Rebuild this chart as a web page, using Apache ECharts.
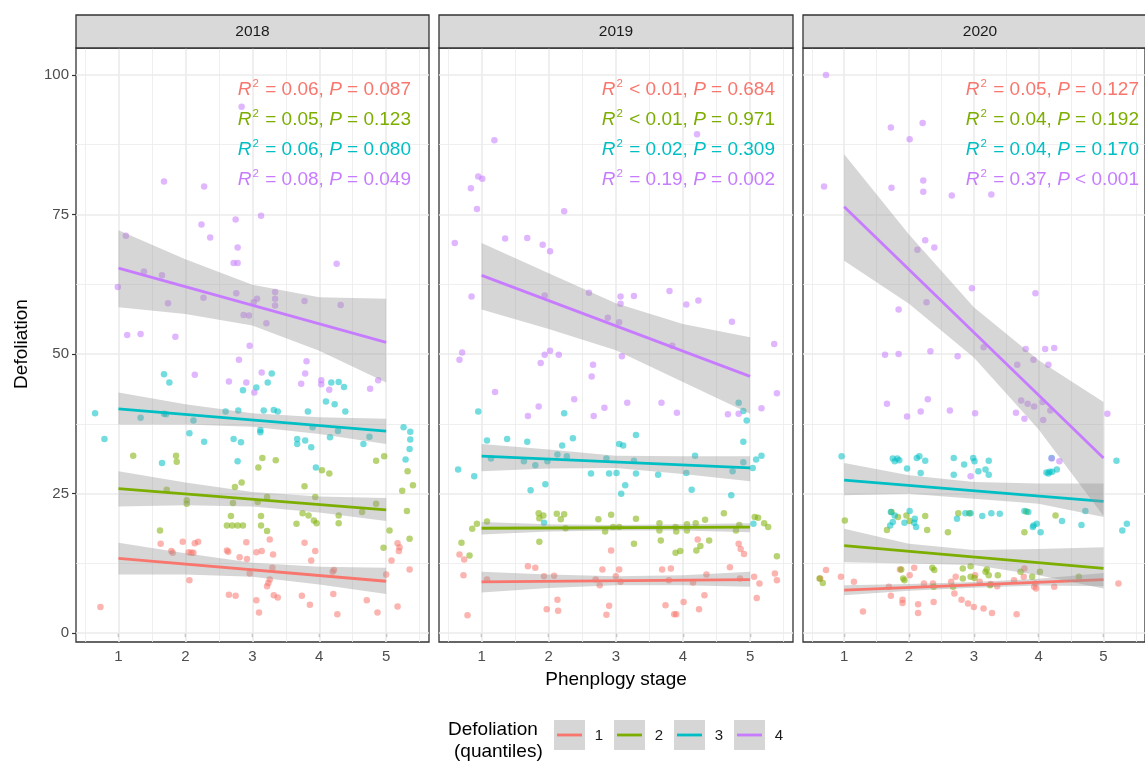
<!DOCTYPE html>
<html><head><meta charset="utf-8">
<script src="https://cdn.jsdelivr.net/npm/echarts@6/dist/echarts.min.js"></script>
<style>html,body{margin:0;padding:0;background:#fff}#c{width:1145px;height:762px}</style>
</head><body><div id="c"></div><script>
// ---------- categories / ticks ----------
const years = ['2018', '2019', '2020'];
const quantiles = ['1', '2', '3', '4'];
const colors = ['#F8766D', '#7CAE00', '#00BFC4', '#C77CFF'];
const xTicks = [1, 2, 3, 4, 5];
const xMinor = [0.5, 1.5, 2.5, 3.5, 4.5, 5.5];
const yTicks = [0, 25, 50, 75, 100];
const yMinor = [12.5, 37.5, 62.5, 87.5];
const bandX = [1, 2, 3, 4, 5];
const fitX = [1, 5];

// ---------- points (phenology stage, defoliation) ----------
const pts18_1 = [[0.73,4.7],[1.63,16.0],[1.79,14.7],[1.81,14.4],[1.96,16.4],[2.06,9.5],[2.05,14.5],[2.09,14.4],[2.12,14.4],[2.14,16.1],[2.19,16.4],[2.62,14.8],[2.64,14.6],[2.81,13.6],[2.92,13.3],[2.91,16.3],[2.65,6.9],[2.75,6.7],[2.96,10.7],[3.06,14.5],[3.14,14.7],[3.26,16.8],[3.31,14.1],[3.30,11.7],[3.06,5.9],[3.10,3.7],[3.22,8.4],[3.24,9.0],[3.26,9.6],[3.32,6.8],[3.38,6.4],[3.78,16.2],[3.94,14.7],[3.88,13.0],[3.74,6.7],[3.86,5.1],[4.20,11.0],[4.22,11.3],[4.21,7.0],[4.27,3.4],[4.71,5.9],[4.87,3.7],[5.00,10.5],[5.08,13.0],[5.17,16.1],[5.19,14.7],[5.20,15.4],[5.17,4.8],[5.35,11.4]];
const pts18_2 = [[1.22,31.8],[1.86,31.8],[1.87,30.7],[1.62,18.4],[1.72,25.7],[2.02,23.8],[2.02,23.2],[2.74,26.2],[2.84,27.0],[2.71,23.3],[2.68,21.0],[2.62,19.3],[2.70,19.3],[2.78,19.3],[2.86,19.3],[3.09,29.7],[3.15,31.4],[3.35,31.0],[3.22,24.4],[3.08,23.5],[3.13,21.0],[3.13,19.3],[3.22,18.3],[3.66,19.6],[3.78,26.3],[3.75,21.5],[3.84,21.1],[3.92,20.2],[3.96,19.7],[3.94,24.4],[4.04,29.2],[4.15,28.6],[4.29,21.1],[4.29,19.7],[4.64,21.7],[4.85,23.2],[4.85,30.9],[4.97,31.7],[4.96,15.3],[5.05,18.4],[5.32,29.0],[5.40,26.5],[5.24,25.5],[5.31,21.9],[5.35,16.9]];
const pts18_3 = [[0.65,39.4],[0.79,34.8],[1.68,46.4],[1.76,44.9],[1.33,38.6],[1.68,39.3],[1.71,39.2],[2.12,38.1],[2.06,35.8],[2.28,34.3],[1.65,30.5],[2.60,39.7],[2.79,39.9],[2.86,43.5],[3.06,44.0],[3.23,44.9],[3.29,46.5],[3.17,39.9],[3.32,40.0],[3.38,39.7],[2.72,34.8],[2.83,34.2],[2.78,30.8],[3.12,36.4],[3.12,36.0],[3.67,34.8],[3.67,33.9],[3.79,34.5],[3.88,33.3],[3.83,39.7],[3.90,36.9],[4.10,41.5],[4.23,41.0],[4.18,44.9],[4.29,45.0],[4.37,44.1],[4.39,39.7],[4.16,35.1],[4.28,36.2],[3.95,29.7],[4.66,33.9],[4.75,35.2],[5.26,36.9],[5.36,36.1],[5.36,34.7],[5.35,33.0],[5.29,31.1]];
const pts18_4 = [[2.84,94.3],[1.68,80.9],[2.28,80.0],[2.75,74.1],[3.13,74.8],[2.24,73.2],[2.37,70.9],[1.11,71.2],[2.78,69.1],[2.72,66.3],[2.78,66.3],[4.26,66.2],[0.99,62.0],[1.38,64.8],[1.65,64.1],[1.74,59.1],[2.27,60.1],[2.76,60.9],[3.02,59.3],[3.07,59.9],[3.34,61.1],[3.34,59.9],[3.34,58.7],[3.78,59.5],[4.32,58.8],[2.87,57.0],[2.95,56.9],[3.21,55.5],[1.13,53.4],[1.33,53.6],[1.85,53.1],[2.96,51.5],[2.80,49.0],[3.81,48.7],[3.79,46.5],[3.14,46.7],[2.14,46.3],[2.65,45.1],[2.91,44.9],[3.73,44.7],[4.03,45.3],[4.03,44.6],[4.15,43.6],[3.03,43.1],[4.76,43.8],[4.88,45.3]];

const pts19_1 = [[0.67,14.1],[0.74,13.2],[0.73,10.4],[0.79,3.2],[1.08,9.6],[1.69,12.0],[1.80,11.7],[1.93,10.2],[2.08,10.3],[1.97,4.3],[2.14,4.0],[2.13,6.0],[2.80,11.4],[2.70,9.6],[2.76,8.6],[2.93,14.8],[3.05,11.4],[3.00,10.2],[3.07,9.2],[2.90,4.9],[2.86,3.3],[3.69,11.4],[3.82,11.6],[3.79,9.5],[3.74,5.0],[3.87,3.4],[3.90,3.4],[4.01,5.6],[4.15,9.1],[4.22,16.8],[4.35,10.5],[4.32,6.8],[4.24,4.3],[4.70,11.8],[4.83,16.0],[4.86,15.1],[4.91,14.2],[5.06,10.1],[5.14,8.9],[5.10,6.3],[5.37,10.7],[5.40,9.5],[4.85,9.8]];
const pts19_2 = [[0.70,16.2],[0.82,13.9],[0.86,18.7],[0.93,19.6],[1.08,20.0],[1.85,21.5],[1.92,21.1],[1.86,20.6],[1.86,16.4],[2.12,21.4],[2.23,21.3],[2.18,20.4],[2.25,18.8],[2.74,20.4],[2.93,21.2],[2.84,18.2],[2.96,19.0],[3.05,19.0],[3.30,20.5],[3.27,16.0],[3.65,19.7],[3.65,18.4],[3.67,16.6],[3.89,19.0],[3.90,18.2],[4.06,19.5],[4.06,18.4],[3.89,14.4],[3.96,14.7],[4.19,19.7],[4.33,20.3],[4.20,14.8],[4.26,15.6],[4.39,16.6],[4.61,21.5],[4.84,19.4],[4.79,18.4],[5.07,20.8],[5.12,20.7],[5.21,19.7],[5.27,19.0],[5.40,13.8]];
const pts19_3 = [[0.95,39.7],[0.65,29.3],[0.89,28.1],[1.08,34.5],[1.38,34.8],[1.68,34.3],[1.14,31.3],[1.63,30.8],[1.80,30.1],[1.98,30.8],[2.13,32.0],[2.27,31.7],[2.23,39.4],[2.20,33.6],[2.36,34.9],[1.95,26.7],[1.73,25.6],[2.63,28.6],[2.86,31.3],[2.90,28.6],[3.01,28.7],[3.05,33.9],[3.11,33.6],[3.30,35.5],[3.27,30.9],[3.30,28.6],[3.14,26.5],[3.08,25.0],[3.63,28.4],[4.18,31.8],[4.05,28.7],[4.13,25.7],[4.72,24.7],[4.74,29.0],[4.90,34.3],[4.90,30.6],[4.83,41.3],[4.90,39.8],[4.95,38.1],[5.04,29.6],[5.09,31.1],[5.17,31.8],[5.05,19.6],[1.93,19.8]];
const pts19_4 = [[1.19,88.3],[4.21,89.4],[0.95,81.8],[1.01,81.4],[0.84,79.7],[0.93,76.0],[2.23,75.6],[0.60,69.9],[1.35,70.7],[1.68,70.8],[1.91,69.6],[2.02,68.4],[0.85,60.3],[1.94,60.5],[2.60,61.0],[3.07,60.3],[3.07,59.0],[3.27,60.4],[3.80,61.3],[4.05,58.9],[4.23,59.6],[4.73,55.8],[2.88,56.5],[3.05,55.7],[5.36,51.8],[3.84,51.5],[0.67,49.0],[0.71,50.3],[1.88,48.4],[1.94,49.9],[2.02,50.6],[2.15,49.9],[2.66,48.1],[2.64,46.0],[3.09,49.6],[1.20,43.2],[2.38,41.9],[1.85,40.6],[1.69,38.9],[2.83,40.4],[2.67,38.9],[3.17,41.3],[3.68,41.3],[3.91,39.5],[4.67,39.2],[4.83,39.3],[5.17,40.3],[5.40,43.0]];

const pts20_1 = [[0.63,9.8],[0.72,11.3],[0.95,10.1],[1.15,9.2],[1.29,3.9],[1.69,8.3],[1.72,6.7],[1.86,11.4],[1.90,6.0],[1.90,5.4],[2.01,10.4],[2.08,11.7],[2.14,5.2],[2.14,3.6],[2.23,8.9],[2.38,5.6],[2.37,8.9],[2.65,9.2],[2.70,7.1],[2.72,10.1],[2.81,6.0],[2.91,5.3],[3.00,4.7],[3.15,4.4],[3.28,3.6],[3.02,10.4],[3.09,9.2],[3.26,8.8],[3.36,8.4],[3.66,3.4],[3.62,9.5],[3.77,10.1],[3.78,11.6],[3.93,8.3],[3.96,8.0],[3.95,8.9],[4.24,8.3],[5.23,8.9]];
const pts20_2 = [[1.01,20.2],[0.67,9.0],[0.62,9.8],[1.73,21.7],[1.83,20.8],[1.96,21.1],[2.01,20.1],[2.25,21.0],[2.28,18.5],[1.66,18.5],[2.60,18.1],[2.76,21.5],[2.93,21.5],[3.78,18.1],[3.81,21.8],[4.26,21.1],[1.88,11.4],[1.91,9.8],[1.93,9.5],[2.36,11.7],[2.39,11.3],[2.38,8.3],[2.83,11.6],[2.95,12.0],[2.83,9.8],[2.95,10.1],[3.18,11.0],[3.23,10.4],[3.20,11.4],[3.37,10.4],[3.25,8.6],[2.68,8.3],[3.72,11.0],[4.02,11.0],[3.90,10.1],[4.62,10.1],[3.01,9.9]];
const pts20_3 = [[0.96,31.7],[1.75,31.3],[1.78,30.8],[1.82,31.3],[1.85,31.0],[1.97,29.5],[2.12,31.4],[2.16,31.7],[2.25,30.9],[2.18,28.7],[2.69,31.4],[2.85,30.2],[2.69,28.4],[2.99,31.4],[3.01,30.8],[3.23,30.9],[3.07,29.0],[3.18,29.3],[3.23,28.4],[4.20,31.4],[4.12,28.8],[4.17,28.9],[4.21,28.9],[4.28,29.3],[4.15,28.6],[5.20,30.9],[1.72,21.7],[1.78,21.1],[2.01,21.9],[2.09,20.5],[2.11,19.0],[1.75,19.9],[1.71,19.3],[1.93,19.8],[2.08,19.8],[2.74,20.5],[2.87,21.5],[2.95,21.5],[3.13,21.0],[3.27,21.5],[3.40,21.4],[3.78,21.9],[3.84,21.7],[3.92,19.3],[3.97,19.6],[4.03,18.1],[3.91,19.0],[4.36,20.1],[4.66,19.4],[4.72,21.9],[5.29,18.4],[5.36,19.6]];
const pts20_4 = [[0.72,100.0],[0.69,80.0],[1.72,90.6],[2.21,91.4],[2.01,88.5],[1.73,79.8],[2.22,81.1],[2.22,79.1],[2.66,78.4],[3.27,78.6],[2.25,70.4],[2.39,69.1],[2.13,68.7],[2.97,61.8],[3.95,60.9],[1.84,58.0],[2.27,59.3],[1.63,49.9],[1.84,50.0],[2.33,50.5],[2.75,49.6],[3.15,51.2],[3.80,50.9],[4.10,50.9],[4.24,51.1],[3.67,48.1],[3.92,49.0],[4.15,48.1],[1.66,41.1],[1.97,38.8],[2.18,39.7],[2.29,41.9],[2.63,39.9],[3.02,39.4],[3.65,39.5],[3.78,38.4],[3.73,41.7],[3.83,41.1],[3.93,40.6],[4.06,41.4],[4.07,38.2],[4.18,39.9],[5.06,39.3],[2.95,28.1],[4.32,30.8],[4.20,31.3]];

// ---------- fitted lines: defoliation at stage 1 and stage 5 ----------
const fit18 = [[13.4, 9.3], [25.9, 22.1], [40.2, 36.2], [65.4, 52.1]];
const fit19 = [[9.2, 9.6], [18.8, 19.0], [31.7, 29.6], [64.1, 46.0]];
const fit20 = [[7.7, 9.6], [15.7, 11.6], [27.4, 23.6], [76.4, 31.4]];

// ---------- confidence bands at stages 1..5 ----------
const lo18_1 = [10.5,10.5,10.1,8.7,7.0],   hi18_1 = [16.2,14.3,12.6,11.9,11.7];
const lo18_2 = [22.7,22.9,22.7,21.6,20.1], hi18_2 = [29.0,27.0,25.3,24.5,24.2];
const lo18_3 = [37.4,37.4,37.0,35.7,33.9], hi18_3 = [43.1,41.0,39.4,38.7,38.4];
const lo18_4 = [58.4,57.2,55.1,50.6,44.9], hi18_4 = [72.2,67.0,62.4,60.2,59.9];
const lo19_1 = [7.3,8.1,8.6,8.6,8.3],      hi19_1 = [11.0,10.5,10.2,10.4,11.0];
const lo19_2 = [17.7,18.2,18.4,18.4,18.1], hi19_2 = [19.9,19.5,19.4,19.5,19.7];
const lo19_3 = [29.0,29.5,29.6,28.5,27.2], hi19_3 = [33.9,32.9,31.8,31.7,31.7];
const lo19_4 = [58.0,54.5,50.7,45.0,39.3], hi19_4 = [69.9,64.5,59.1,55.4,53.0];
const lo20_1 = [6.8,7.6,8.15,8.55,8.4],    hi20_1 = [8.6,8.8,9.15,9.75,10.8];
const lo20_2 = [12.7,12.5,12.2,10.4,8.0],  hi20_2 = [18.7,16.0,14.9,15.1,15.4];
const lo20_3 = [24.7,25.0,24.1,23.2,20.8], hi20_3 = [30.5,28.3,27.1,26.8,26.8];
const lo20_4 = [66.7,59.0,49.4,36.5,21.0], hi20_4 = [85.8,71.4,58.4,48.9,41.4];

// ---------- annotation statistics ----------
const r2_18 = ['= 0.06', '= 0.05', '= 0.06', '= 0.08'], p_18 = ['= 0.087', '= 0.123', '= 0.080', '= 0.049'];
const r2_19 = ['< 0.01', '< 0.01', '= 0.02', '= 0.19'], p_19 = ['= 0.684', '= 0.971', '= 0.309', '= 0.002'];
const r2_20 = ['= 0.05', '= 0.04', '= 0.04', '= 0.37'], p_20 = ['= 0.127', '= 0.192', '= 0.170', '< 0.001'];

// ---------- assemble ----------
const points = [[pts18_1, pts18_2, pts18_3, pts18_4], [pts19_1, pts19_2, pts19_3, pts19_4], [pts20_1, pts20_2, pts20_3, pts20_4]];
const fits = [fit18, fit19, fit20];
const los = [[lo18_1, lo18_2, lo18_3, lo18_4], [lo19_1, lo19_2, lo19_3, lo19_4], [lo20_1, lo20_2, lo20_3, lo20_4]];
const his = [[hi18_1, hi18_2, hi18_3, hi18_4], [hi19_1, hi19_2, hi19_3, hi19_4], [hi20_1, hi20_2, hi20_3, hi20_4]];
const r2s = [r2_18, r2_19, r2_20], ps = [p_18, p_19, p_20];

const FONT = '"Liberation Sans", Arial, Helvetica, sans-serif';
const X_MIN = 0.365, X_MAX = 5.64, Y_MIN = -1.58, Y_MAX = 104.83;
const boxes = [{ left: 76, width: 353 }, { left: 439, width: 354 }, { left: 803, width: 354 }];
const TOP = 48, H = 594;

const chart = echarts.init(document.getElementById('c'), null, { renderer: 'canvas' });

const grids = [], xAxes = [], yAxes = [], series = [], graphic = [];
boxes.forEach((b, p) => {
  grids.push({ left: b.left, top: TOP, width: b.width, height: H, show: true, backgroundColor: '#FFFFFF', borderColor: '#333333', borderWidth: 1.3, z: 0 });
  xAxes.push({
    type: 'value', gridIndex: p, min: X_MIN, max: X_MAX,
    axisLine: { show: false }, splitLine: { show: false },
    axisTick: { show: true, customValues: xTicks, length: 4, lineStyle: { color: '#333333', width: 1.2 } },
    axisLabel: { show: true, customValues: xTicks, color: '#4D4D4D', fontSize: 15, fontFamily: FONT, margin: 7 }
  });
  yAxes.push({
    type: 'value', gridIndex: p, min: Y_MIN, max: Y_MAX,
    axisLine: { show: false }, splitLine: { show: false },
    axisTick: { show: p === 0, customValues: yTicks, length: 4, lineStyle: { color: '#333333', width: 1.2 } },
    axisLabel: { show: p === 0, customValues: yTicks, color: '#4D4D4D', fontSize: 15, fontFamily: FONT, margin: 7 }
  });
  // grid lines
  const minorLines = xMinor.map(v => ({ coords: [[v, Y_MIN], [v, Y_MAX]] }))
    .concat(yMinor.map(v => ({ coords: [[X_MIN, v], [X_MAX, v]] })));
  const majorLines = xTicks.map(v => ({ coords: [[v, Y_MIN], [v, Y_MAX]] }))
    .concat(yTicks.map(v => ({ coords: [[X_MIN, v], [X_MAX, v]] })));
  series.push({ type: 'lines', coordinateSystem: 'cartesian2d', xAxisIndex: p, yAxisIndex: p, silent: true, z: 1,
    lineStyle: { color: '#EBEBEB', width: 0.8, opacity: 1 }, data: minorLines });
  series.push({ type: 'lines', coordinateSystem: 'cartesian2d', xAxisIndex: p, yAxisIndex: p, silent: true, z: 1,
    lineStyle: { color: '#EBEBEB', width: 1.6, opacity: 1 }, data: majorLines });

  for (let g = 0; g < 4; g++) {
    series.push({
      type: 'scatter', name: quantiles[g], xAxisIndex: p, yAxisIndex: p, data: points[p][g],
      symbol: 'circle', symbolSize: 6.5, silent: true, z: 2,
      itemStyle: { color: colors[g], opacity: 0.55 }
    });
  }
  for (let g = 0; g < 4; g++) {
    const lo = los[p][g], hi = his[p][g];
    series.push({
      type: 'custom', xAxisIndex: p, yAxisIndex: p, silent: true, z: 3 + 2 * g, clip: true,
      data: bandX.map((x, i) => [x, lo[i], hi[i]]),
      encode: { x: 0, y: [1, 2] },
      renderItem: function (params, api) {
        if (params.dataIndex !== 0) return null;
        const pts = [];
        for (let i = 0; i < bandX.length; i++) pts.push(api.coord([bandX[i], hi[i]]));
        for (let i = bandX.length - 1; i >= 0; i--) pts.push(api.coord([bandX[i], lo[i]]));
        return { type: 'polygon', shape: { points: pts }, style: { fill: 'rgba(153,153,153,0.4)' } };
      }
    });
    series.push({
      type: 'line', name: quantiles[g], xAxisIndex: p, yAxisIndex: p, silent: true, z: 4 + 2 * g,
      data: fitX.map((x, i) => [x, fits[p][g][i]]),
      showSymbol: false, symbol: 'none',
      lineStyle: { color: colors[g], width: 2.8 }
    });
  }

  // strip
  graphic.push({ type: 'rect', shape: { x: b.left, y: 15, width: b.width, height: 33 },
    style: { fill: '#D9D9D9', stroke: '#333333', lineWidth: 1.3 }, z: 10 });
  graphic.push({ type: 'text', x: b.left + b.width / 2, y: 32, z: 11,
    style: { text: years[p], fill: '#1A1A1A', fontSize: 15.5, fontFamily: FONT, align: 'center', verticalAlign: 'middle' } });

  // annotations
  const rightX = [411, 775, 1139][p];
  const lineY = [90, 119.5, 149.5, 180];
  for (let g = 0; g < 4; g++) {
    graphic.push({ type: 'text', x: rightX, y: lineY[g], z: 12,
      style: {
        text: '{i|R}{s|2}{n| ' + r2s[p][g] + ', }{i|P}{n| ' + ps[p][g] + '}',
        align: 'right', verticalAlign: 'middle',
        rich: {
          i: { fill: colors[g], fontSize: 19, fontStyle: 'italic', fontFamily: FONT, lineHeight: 24 },
          n: { fill: colors[g], fontSize: 19, fontFamily: FONT, lineHeight: 24 },
          s: { fill: colors[g], fontSize: 11.5, fontFamily: FONT, lineHeight: 24, verticalAlign: 'top', padding: [0, 1, 0, 1] }
        }
      } });
  }
});

// axis titles
graphic.push({ type: 'text', x: 22, y: 344, rotation: Math.PI / 2, z: 12,
  style: { text: 'Defoliation', fill: '#000000', fontSize: 19, fontFamily: FONT, align: 'center', verticalAlign: 'middle' } });
graphic.push({ type: 'text', x: 616, y: 680, z: 12,
  style: { text: 'Phenplogy stage', fill: '#000000', fontSize: 19, fontFamily: FONT, align: 'center', verticalAlign: 'middle' } });

// legend
graphic.push({ type: 'text', x: 448, y: 730, z: 12,
  style: { text: 'Defoliation', fill: '#000000', fontSize: 19, fontFamily: FONT, align: 'left', verticalAlign: 'middle' } });
graphic.push({ type: 'text', x: 454, y: 752, z: 12,
  style: { text: '(quantiles)', fill: '#000000', fontSize: 19, fontFamily: FONT, align: 'left', verticalAlign: 'middle' } });
const keyX = [554, 614, 674, 734];
quantiles.forEach((q, g) => {
  graphic.push({ type: 'rect', shape: { x: keyX[g], y: 720, width: 31, height: 30 }, style: { fill: '#D6D6D6' }, z: 12 });
  graphic.push({ type: 'line', shape: { x1: keyX[g] + 3, y1: 735, x2: keyX[g] + 28, y2: 735 }, style: { stroke: colors[g], lineWidth: 2.8 }, z: 13 });
  graphic.push({ type: 'text', x: keyX[g] + 45, y: 736, z: 13,
    style: { text: q, fill: '#1A1A1A', fontSize: 15, fontFamily: FONT, align: 'center', verticalAlign: 'middle' } });
});

chart.setOption({
  animation: false,
  backgroundColor: '#FFFFFF',
  grid: grids, xAxis: xAxes, yAxis: yAxes, series: series, graphic: graphic
});
</script></body></html>
